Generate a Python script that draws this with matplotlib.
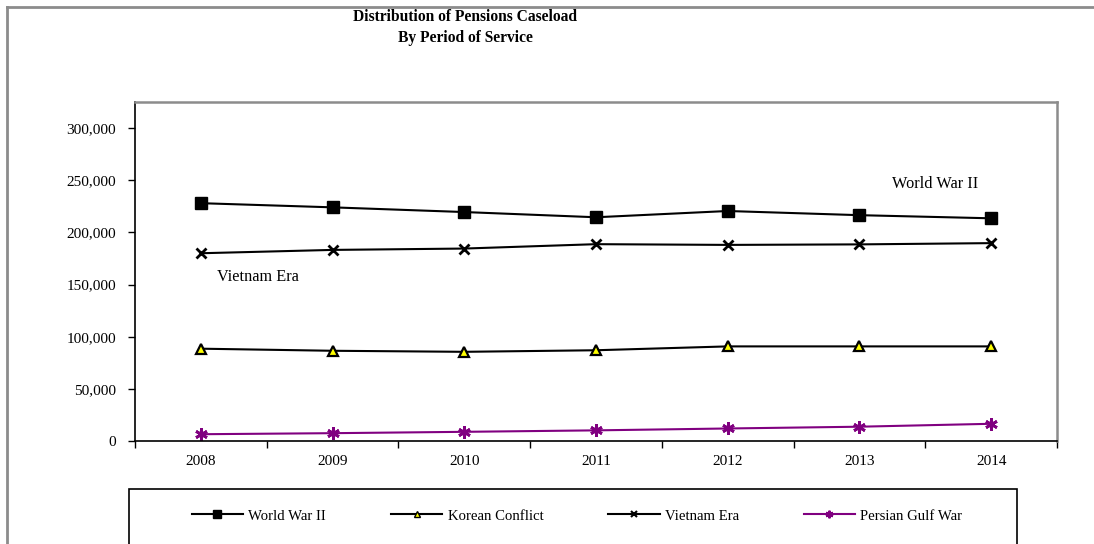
import numpy as np
import matplotlib.pyplot as plt
from matplotlib.lines import Line2D
from matplotlib.patches import Rectangle
from matplotlib.ticker import FuncFormatter

plt.rcParams['font.family'] = ['Liberation Serif', 'DejaVu Serif']

# Data
years = ['2008', '2009', '2010', '2011', '2012', '2013', '2014']
ww2 = [228000, 224000, 219500, 214500, 220500, 216500, 213500]
korean = [88500, 86500, 85500, 87000, 90700, 90700, 90700]
vietnam = [180000, 183200, 184500, 188700, 188000, 188500, 189700]
gulf = [6500, 7500, 8800, 10200, 12000, 13700, 16500]

W, H = 1094, 544
fig = plt.figure(figsize=(W / 100, H / 100), dpi=100)

# plot area in pixel coords
left, right, top, bottom = 135, 1057, 102, 441
ax = fig.add_axes([left / W, (H - bottom) / H, (right - left) / W, (bottom - top) / H])

x = np.arange(len(years))
ax.plot(x, ww2, color='black', lw=1.5, marker='s', ms=8.5, mfc='black', mec='black')
ax.plot(x, korean, color='black', lw=1.5, marker='^', ms=7.5, mfc='#ffff00', mec='black', mew=1.6)
ax.plot(x, vietnam, color='black', lw=1.5, marker='x', ms=7, mew=2)
ax.plot(x, gulf, color='#800080', lw=1.5, marker=(6, 2, 0), ms=9, mew=2, mec='#800080')

ax.set_xlim(-0.5, len(years) - 0.5)
ax.set_ylim(0, 325000)
ax.set_yticks(np.arange(0, 300001, 50000))
ax.yaxis.set_major_formatter(FuncFormatter(lambda v, p: f'{int(v):,}'))

ax.set_xticks(np.arange(-0.5, len(years), 1.0))
ax.set_xticklabels([])
ax.set_xticks(x, minor=True)
ax.set_xticklabels(years, minor=True)
ax.tick_params(axis='x', which='major', direction='out', length=5, width=1)
ax.tick_params(axis='x', which='minor', length=0, pad=10, labelsize=11)
ax.tick_params(axis='y', direction='out', length=5, width=1, labelsize=11, pad=8.5)

for s in ['left', 'bottom']:
    ax.spines[s].set_color('black')
    ax.spines[s].set_linewidth(1.2)
for s in ['top', 'right']:
    ax.spines[s].set_color('#8c8c8c')
    ax.spines[s].set_linewidth(1.8)

ax.text(5.248, 246500, 'World War II', fontsize=11.7, ha='left', va='center')
ax.text(0.123, 157200, 'Vietnam Era', fontsize=11.7, ha='left', va='center')

fig.text(465 / W, 1 - 17 / H, 'Distribution of Pensions Caseload', ha='center', va='center',
         fontsize=11.2, fontweight='bold')
fig.text(465 / W, 1 - 38 / H, 'By Period of Service', ha='center', va='center',
         fontsize=11.2, fontweight='bold')

# outer frame (top and left)
fig.add_artist(Line2D([7 / W, 1], [1 - 7 / H, 1 - 7 / H], transform=fig.transFigure,
                      color='#8c8c8c', lw=2))
fig.add_artist(Line2D([7 / W, 7 / W], [0, 1 - 7 / H], transform=fig.transFigure,
                      color='#8c8c8c', lw=2))

# legend box
fig.add_artist(Rectangle((129 / W, -0.05), (1017 - 129) / W, 0.05 + (H - 489) / H,
                         transform=fig.transFigure, fill=False, edgecolor='black', lw=1.2))
handles = [
    Line2D([], [], color='black', lw=1.5, marker='s', ms=5.5),
    Line2D([], [], color='black', lw=1.5, marker='^', ms=4.5, mfc='#ffff00', mec='black'),
    Line2D([], [], color='black', lw=1.5, marker='x', ms=4.5, mew=1.5),
    Line2D([], [], color='#800080', lw=1.5, marker=(6, 2, 0), ms=5.5, mew=1.5),
]
labels = ['World War II', 'Korean Conflict', 'Vietnam Era', 'Persian Gulf War']
fig.legend(handles, labels, loc='center', bbox_to_anchor=(577 / W, 1 - 516 / H), ncol=4,
           frameon=False, fontsize=10.6, handlelength=3.5, handletextpad=0.35,
           columnspacing=4.4, borderpad=0, borderaxespad=0)

fig.savefig('out.png', dpi=100)
